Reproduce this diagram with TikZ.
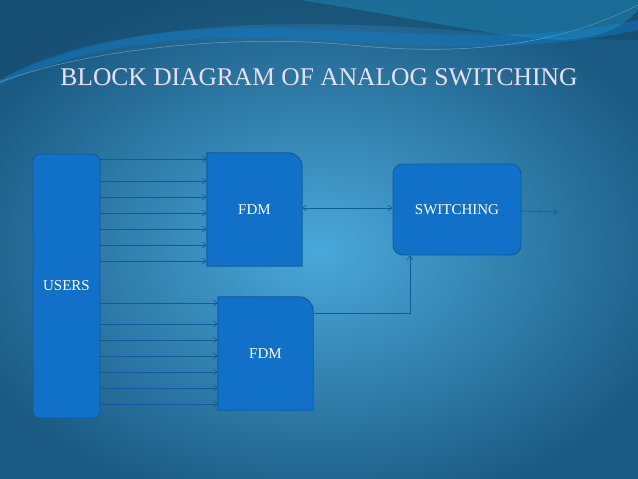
\documentclass[tikz,border=0pt]{standalone}
\usepackage{fontspec}
\setmainfont{Liberation Serif}
\usetikzlibrary{arrows.meta,shadings}
\definecolor{boxf}{HTML}{1170C8}
\definecolor{boxd}{HTML}{0E5C9E}
\definecolor{edge}{HTML}{1A5A82}
\definecolor{mid}{HTML}{4AA8DA}
\begin{document}
\begin{tikzpicture}[x=1pt,y=-1pt,
  blk/.style={fill=boxf,draw=boxd,line width=0.9pt},
  lab/.style={text=white,font=\fontsize{15}{16}\selectfont},
  conn/.style={draw=boxd,line width=0.6pt,-{Straight Barb[length=4pt,width=6pt]}}]
\useasboundingbox (0,0) rectangle (638,479);
\shade[inner color=mid,outer color=edge] (-60,-20) rectangle (698,520);
\clip (0,0) rectangle (638,479);
% top waves
\fill[color=edge!80!black,opacity=0.5] (0,0) -- (638,0) -- (638,40) .. controls (520,40) and (420,20) .. (250,25) .. controls (120,30) and (40,60) .. (0,80) -- cycle;
\fill[color=cyan!60!blue,opacity=0.45] (0,80) .. controls (60,45) and (160,25) .. (280,28) .. controls (420,32) and (520,45) .. (638,20) -- (638,30) .. controls (520,55) and (420,45) .. (280,38) .. controls (160,33) and (60,55) .. (0,85) -- cycle;
\draw[white,opacity=0.35,line width=0.5pt] (0,82) .. controls (100,45) and (250,35) .. (350,45) .. controls (450,55) and (550,50) .. (638,5);
\fill[cyan!70!teal,opacity=0.35] (300,0) .. controls (400,15) and (480,35) .. (560,40) .. controls (600,38) and (620,30) .. (638,10) -- (638,0) -- cycle;
% title
\node[text=black!60,opacity=0.6,font=\fontsize{25.5}{28}\selectfont] at (319.8,77.8) {BLOCK DIAGRAM OF ANALOG SWITCHING};
\node (title) [text=white!88!blue,font=\fontsize{25.5}{28}\selectfont] at (319,77) {BLOCK DIAGRAM OF ANALOG SWITCHING};
% blocks
\node (u) [blk,rounded corners=7pt,minimum width=67pt,minimum height=264pt,inner sep=0pt] at (66.5,286) {};
\node[lab] at (u) {USERS};
\node (f1) [minimum width=95pt,minimum height=113pt,inner sep=0pt] at (254.5,209.5) {};
\draw[blk] (f1.north west) -- ([xshift=-14pt]f1.north east) arc[start angle=90,end angle=0,radius=14pt] -- (f1.south east) -- (f1.south west) -- cycle;
\node[lab] at (f1) {FDM};
\node (f2) [minimum width=95pt,minimum height=113pt,inner sep=0pt] at (265.5,353.5) {};
\draw[blk] (f2.north west) -- ([xshift=-14pt]f2.north east) arc[start angle=90,end angle=0,radius=14pt] -- (f2.south east) -- (f2.south west) -- cycle;
\node[lab] at (f2) {FDM};
\node (sw) [blk,rounded corners=10pt,minimum width=128pt,minimum height=91pt,inner sep=0pt] at (457,209.5) {};
\node[lab] at (sw) {SWITCHING};
\coordinate (out) at (558,212);
% connectors
\foreach \y in {159,181,197,213,229,245,261}
  \draw[conn] (u.east |- 0,\y) -- (f1.west |- 0,\y);
\foreach \y in {303,324,340,356,372,388,404}
  \draw[conn] (u.east |- 0,\y) -- (f2.west |- 0,\y);
\draw[conn,{Straight Barb[length=4pt,width=6pt]}-{Straight Barb[length=4pt,width=6pt]}] (f1.east |- 0,208) -- (sw.west |- 0,208);
\draw[conn] (f2.east |- 0,313) -- (410,313) -- (sw.south -| 410,0);
\draw[conn] (sw.east |- 0,211) -- (out);
\end{tikzpicture}
\end{document}
